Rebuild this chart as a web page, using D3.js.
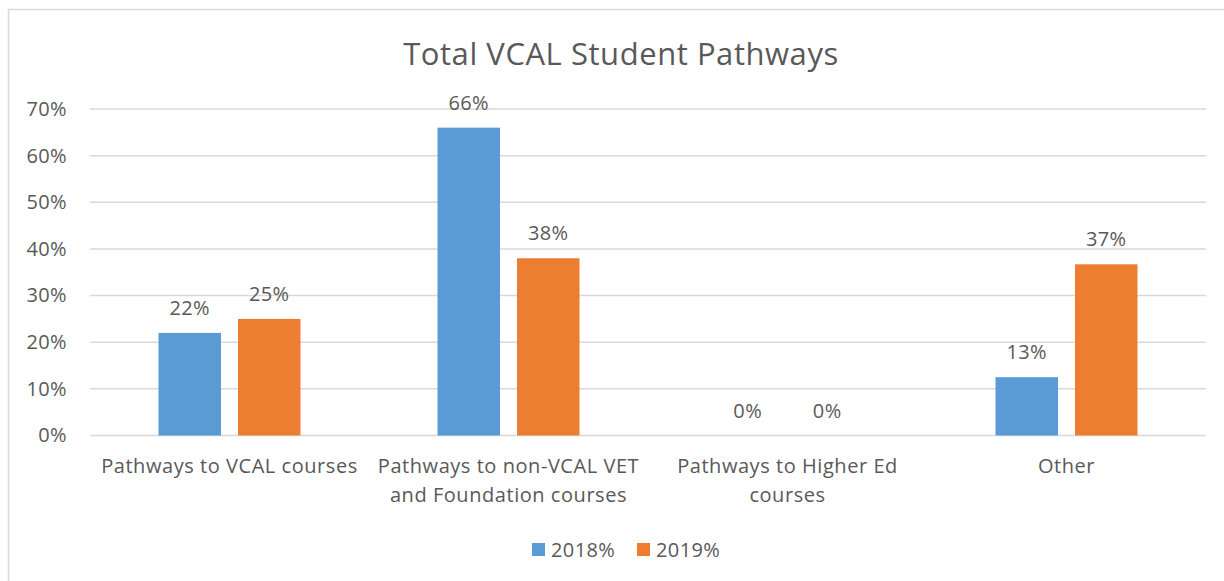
<!DOCTYPE html>
<html>
<head>
<meta charset="utf-8">
<script src="https://cdn.jsdelivr.net/npm/d3@7"></script>
<style>
 body { margin: 0; background: #fff; }
 text { font-family: "Open Sans", sans-serif; fill: #595959; }
</style>
</head>
<body>
<svg></svg>
<script>
// размеры
const width = 1224;
const height = 581;

// данные
const categories = [
  ["Pathways to VCAL courses"],
  ["Pathways to non-VCAL VET", "and Foundation courses"],
  ["Pathways to Higher Ed", "courses"],
  ["Other"]
];
const seriesNames = ["2018%", "2019%"];
const values2018 = [0.22, 0.66, 0, 0.125];
const values2019 = [0.25, 0.38, 0, 0.367];
const yTicks = [0, 0.1, 0.2, 0.3, 0.4, 0.5, 0.6, 0.7];
const colors = ["#5b9bd5", "#ed7d31"];

let svg = d3.select("svg")
  .attr("width", width)
  .attr("height", height);

// рамка
svg.append("rect")
  .attr("x", 8.5).attr("y", 9.5)
  .attr("width", 1240).attr("height", 600)
  .style("fill", "none")
  .style("stroke", "#d9d9d9")
  .style("stroke-width", 1.5);

// заголовок
svg.append("text")
  .attr("x", 621).attr("y", 65)
  .attr("text-anchor", "middle")
  .style("font-size", "31px")
  .style("letter-spacing", "0.55px")
  .text("Total VCAL Student Pathways");

const plot = {left: 90, right: 1206, top: 109, bottom: 435.5};

let x = d3.scaleBand()
  .domain(d3.range(categories.length))
  .range([plot.left, plot.right]);

let y = d3.scaleLinear()
  .domain([0, 0.7])
  .range([plot.bottom, plot.top]);

// сетка
svg.append("g")
  .selectAll("line")
  .data(yTicks)
  .join("line")
  .attr("x1", plot.left).attr("x2", plot.right)
  .attr("y1", d => y(d)).attr("y2", d => y(d))
  .style("stroke", "#d9d9d9")
  .style("stroke-width", 1.5);

// ось Y
let yAxis = svg.append("g")
  .attr("transform", `translate(${plot.left - 23},0)`)
  .call(d3.axisLeft(y).tickValues(yTicks).tickFormat(d3.format(".0%")).tickSize(0).tickPadding(0));
yAxis.select(".domain").remove();
yAxis.selectAll("text")
  .style("font-size", "20px")
  .style("font-family", "Open Sans, sans-serif")
  .style("letter-spacing", "0.4px")
  .attr("fill", "#595959");

// столбцы
const barW = 62.5;
const innerGap = 17;
let series = [values2018, values2019];
series.forEach((vals, s) => {
  let offset = s === 0 ? -innerGap / 2 - barW : innerGap / 2;
  let g = svg.append("g");
  g.selectAll("rect")
    .data(vals)
    .join("rect")
    .attr("x", (d, i) => x(i) + x.bandwidth() / 2 + offset)
    .attr("y", d => y(d))
    .attr("width", barW)
    .attr("height", d => y(0) - y(d))
    .style("fill", colors[s]);
  g.selectAll("text")
    .data(vals)
    .join("text")
    .attr("x", (d, i) => x(i) + x.bandwidth() / 2 + offset + barW / 2)
    .attr("y", d => y(d) - 18)
    .attr("text-anchor", "middle")
    .style("font-size", "20px")
    .style("letter-spacing", "0.4px")
    .text(d => d3.format(".0%")(d));
});

// подписи категорий
let cat = svg.append("g")
  .selectAll("text")
  .data(categories)
  .join("text")
  .attr("x", (d, i) => x(i) + x.bandwidth() / 2)
  .attr("y", 473)
  .attr("text-anchor", "middle")
  .style("font-size", "20px")
  .style("letter-spacing", "0.55px");
cat.selectAll("tspan")
  .data(d => d)
  .join("tspan")
  .attr("x", function() { return this.parentNode.getAttribute("x"); })
  .attr("dy", (d, i) => i === 0 ? 0 : 29)
  .text(d => d);

// легенда
let legend = svg.append("g");
const legendX = [532, 637];
seriesNames.forEach((name, i) => {
  legend.append("rect")
    .attr("x", legendX[i]).attr("y", 543)
    .attr("width", 13).attr("height", 13)
    .style("fill", colors[i]);
  legend.append("text")
    .attr("x", legendX[i] + 19).attr("y", 557)
    .style("font-size", "20px")
    .style("letter-spacing", "0.4px")
    .text(name);
});
</script>
</body>
</html>
